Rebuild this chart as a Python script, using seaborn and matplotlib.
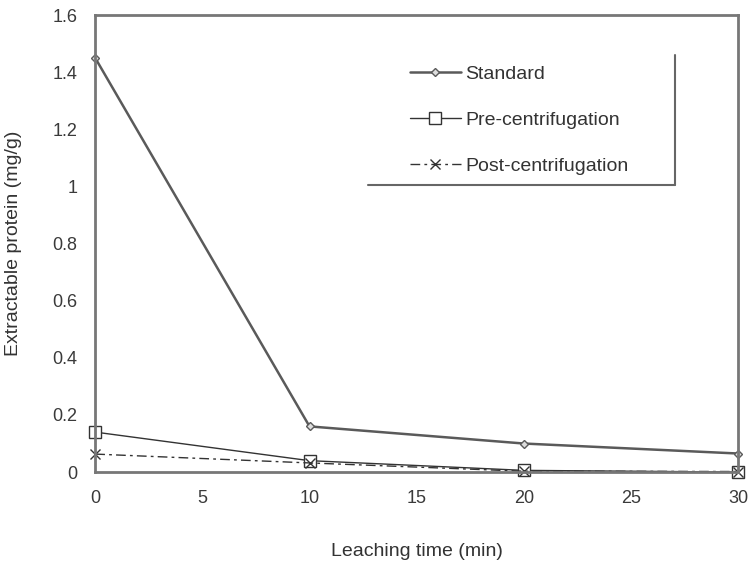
import matplotlib
matplotlib.use("Agg")
import matplotlib.pyplot as plt
import seaborn as sns
import pandas as pd
from matplotlib.lines import Line2D

# Data
time_min = [0, 10, 20, 30]
standard = [1.45, 0.16, 0.10, 0.065]
pre_centrifugation = [0.14, 0.04, 0.006, 0.0]
post_centrifugation = [0.063, 0.032, 0.003, 0.002]

series_names = ["Standard", "Pre-centrifugation", "Post-centrifugation"]
y_ticks = [0, 0.2, 0.4, 0.6, 0.8, 1.0, 1.2, 1.4, 1.6]
y_ticklabels = ["0", "0.2", "0.4", "0.6", "0.8", "1", "1.2", "1.4", "1.6"]
x_ticks = [0, 5, 10, 15, 20, 25, 30]

df = pd.DataFrame({
    "time": time_min * 3,
    "protein": standard + pre_centrifugation + post_centrifugation,
    "series": [s for s in series_names for _ in time_min],
})

sns.set_theme(style="white")
plt.rcParams["font.family"] = ["Liberation Sans", "DejaVu Sans"]

fig = plt.figure(figsize=(7.5, 5.62), dpi=100)
ax = fig.add_axes([0.127, 0.160, 0.857, 0.813])

styles = {
    "Standard": dict(color="#5a5a5a", lw=1.8, ls="-", marker="D", ms=4,
                     mfc="#dddddd", mec="#5a5a5a"),
    "Pre-centrifugation": dict(color="#333333", lw=1.0, ls="-", marker="s", ms=8,
                               mfc="white", mec="#333333"),
    "Post-centrifugation": dict(color="#333333", lw=1.0, ls=(0, (7, 3, 2, 3)),
                                marker="x", ms=7, mec="#333333"),
}

for name in series_names:
    sub = df[df["series"] == name]
    st = styles[name]
    sns.lineplot(data=sub, x="time", y="protein", ax=ax, color=st["color"],
                 lw=st["lw"], ls=st["ls"], marker=st["marker"], ms=st["ms"],
                 mfc=st.get("mfc", "none"), mec=st["mec"], mew=1.0,
                 label=name, clip_on=False)

ax.set_xlim(0, 30)
ax.set_ylim(0, 1.6)
ax.set_xticks(x_ticks)
ax.set_yticks(y_ticks)
ax.set_yticklabels(y_ticklabels)
ax.tick_params(axis="both", direction="out", length=5, width=1, color="#555555",
               labelsize=13, labelcolor="#3a3a3a", pad=8)
for sp in ax.spines.values():
    sp.set_color("#777777")
    sp.set_linewidth(2)

ax.set_xlabel("Leaching time (min)", fontsize=14, color="#333333", labelpad=26)
ax.set_ylabel("Extractable protein (mg/g)", fontsize=14, color="#333333", labelpad=22)

leg = ax.legend(loc="upper left", bbox_to_anchor=(0.49, 0.890), frameon=False,
                borderaxespad=0, borderpad=0, fontsize=14, handlelength=2.6,
                handletextpad=0.25, labelspacing=1.45, labelcolor="#333333")

# partial legend box (right and bottom edges only, as in the scan)
ax.add_line(Line2D([0.425, 0.902], [0.628, 0.628], transform=ax.transAxes,
                   color="#666666", lw=1.5))
ax.add_line(Line2D([0.902, 0.902], [0.628, 0.912], transform=ax.transAxes,
                   color="#666666", lw=1.5))

fig.savefig("out.png", dpi=100)
